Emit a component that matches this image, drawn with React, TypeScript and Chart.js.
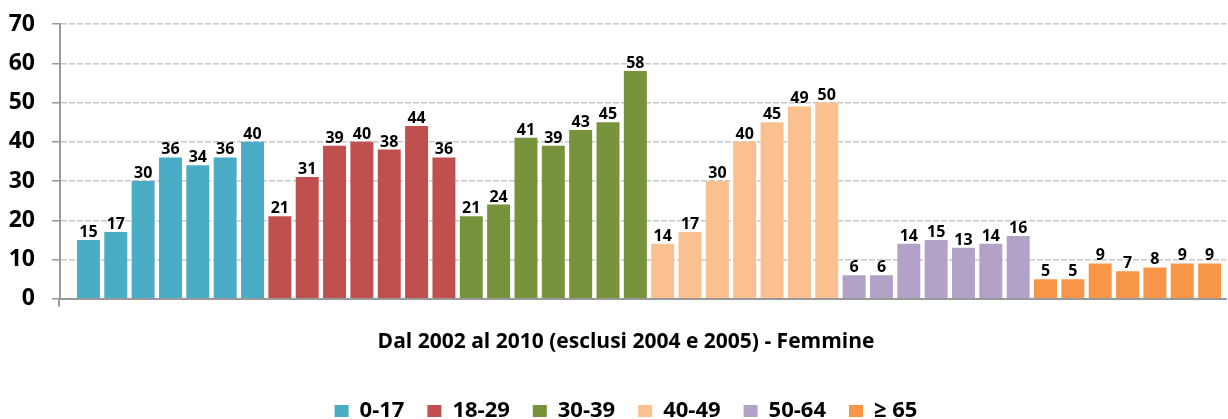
import React, { useEffect, useRef } from "react";
import { Chart, registerables } from "chart.js";

Chart.register(...registerables);

// ---- data ----
const ageGroups = ["0-17", "18-29", "30-39", "40-49", "50-64", "≥ 65"];
const years = ["2002", "2003", "2006", "2007", "2008", "2009", "2010"];
const values0_17 = [15, 17, 30, 36, 34, 36, 40];
const values18_29 = [21, 31, 39, 40, 38, 44, 36];
const values30_39 = [21, 24, 41, 39, 43, 45, 58];
const values40_49 = [14, 17, 30, 40, 45, 49, 50];
const values50_64 = [6, 6, 14, 15, 13, 14, 16];
const values65 = [5, 5, 9, 7, 8, 9, 9];
const seriesValues = [values0_17, values18_29, values30_39, values40_49, values50_64, values65];
const groupColors = ["#4BACC6", "#C0504D", "#77933C", "#FAC090", "#B3A2C7", "#F79646"];
const yTickValues = [0, 10, 20, 30, 40, 50, 60, 70];
const chartTitle = "Dal 2002 al 2010 (esclusi 2004 e 2005) - Femmine";

const FONT = "'Open Sans', 'Noto Sans', sans-serif";

const valueLabels = {
  id: "valueLabels",
  afterDatasetsDraw(chart: any) {
    const ctx = chart.ctx;
    ctx.save();
    ctx.font = `bold 16px ${FONT}`;
    ctx.fillStyle = "#000";
    ctx.textAlign = "center";
    ctx.textBaseline = "alphabetic";
    chart.data.datasets.forEach((ds: any, di: number) => {
      const meta = chart.getDatasetMeta(di);
      meta.data.forEach((el: any, i: number) => {
        const v = ds.data[i].y;
        ctx.fillText(String(v), el.x, el.y - 3);
      });
    });
    ctx.restore();
  },
};

const axisExtension = {
  id: "axisExtension",
  afterDraw(chart: any) {
    const { ctx, chartArea } = chart;
    ctx.save();
    ctx.strokeStyle = "#999";
    ctx.lineWidth = 2;
    ctx.beginPath();
    ctx.moveTo(chartArea.left - 1, chartArea.bottom);
    ctx.lineTo(chartArea.left - 1, chartArea.bottom + 8);
    ctx.stroke();
    ctx.restore();
  },
};

const centerShift = {
  id: "centerShift",
  afterLayout(chart: any) {
    const dx = 8.5;
    [chart.legend, chart.titleBlock].forEach((b: any) => {
      if (b) {
        b.left += dx;
        b.right += dx;
      }
    });
  },
};

export default function App() {
  const canvasRef = useRef<HTMLCanvasElement | null>(null);

  useEffect(() => {
    if (!canvasRef.current) return;
    const datasets = ageGroups.map((g, gi) => ({
      label: g,
      data: seriesValues[gi].map((v, i) => ({ x: gi * years.length + i, y: v })),
      backgroundColor: groupColors[gi],
      borderWidth: 0,
      grouped: false,
      barPercentage: 0.84,
      categoryPercentage: 1,
    }));

    const chart = new Chart(canvasRef.current, {
      type: "bar",
      data: { datasets },
      options: {
        animation: false,
        responsive: false,
        devicePixelRatio: 1,
        layout: { padding: { left: 9, right: 2, top: 24, bottom: -13 } },
        scales: {
          x: {
            type: "linear",
            offset: false,
            min: -1.04,
            max: 41.6,
            ticks: { display: false },
            grid: { display: false, offset: false },
            border: { display: true, color: "#999", width: 2 },
          },
          y: {
            min: 0,
            max: 70,
            afterFit: (s: any) => {
              s.width = 51;
              s.paddingTop = 0;
              s.paddingBottom = 0;
            },
            afterBuildTicks: (s: any) => {
              s.ticks = yTickValues.map((v) => ({ value: v }));
            },
            ticks: {
              color: "#000",
              font: { family: FONT, size: 23, weight: "bold", lineHeight: 1 },
              padding: 17,
            },
            grid: {
              color: (c: any) => (c.tick && c.tick.value === 0 ? "rgba(0,0,0,0)" : "#c8c8c8"),
              lineWidth: 1.5,
              tickLength: 8,
              tickColor: "#999",
              tickWidth: 1.5,
            },
            border: {
              display: true,
              color: "#999",
              width: 2,
              dash: (c: any) => (c.type === "tick" ? [6, 2] : []),
            },
          },
        },
        plugins: {
          tooltip: { enabled: false },
          title: {
            display: true,
            text: chartTitle,
            position: "bottom",
            weight: 500,
            color: "#000",
            font: { family: FONT, size: 21, weight: "bold", lineHeight: 1.2 },
            padding: { top: 23, bottom: 22 },
          },
          legend: {
            display: true,
            position: "bottom",
            labels: {
              color: "#000",
              font: { family: FONT, size: 22, weight: "bold" },
              boxWidth: 14,
              boxHeight: 12,
              padding: 23,
            },
          },
        },
      } as any,
      plugins: [valueLabels, axisExtension, centerShift],
    });
    return () => chart.destroy();
  }, []);

  return (
    <div style={{ position: "fixed", left: 0, top: 0, width: 1228, height: 419, background: "#fff" }}>
      <canvas ref={canvasRef} width={1228} height={419} />
    </div>
  );
}
